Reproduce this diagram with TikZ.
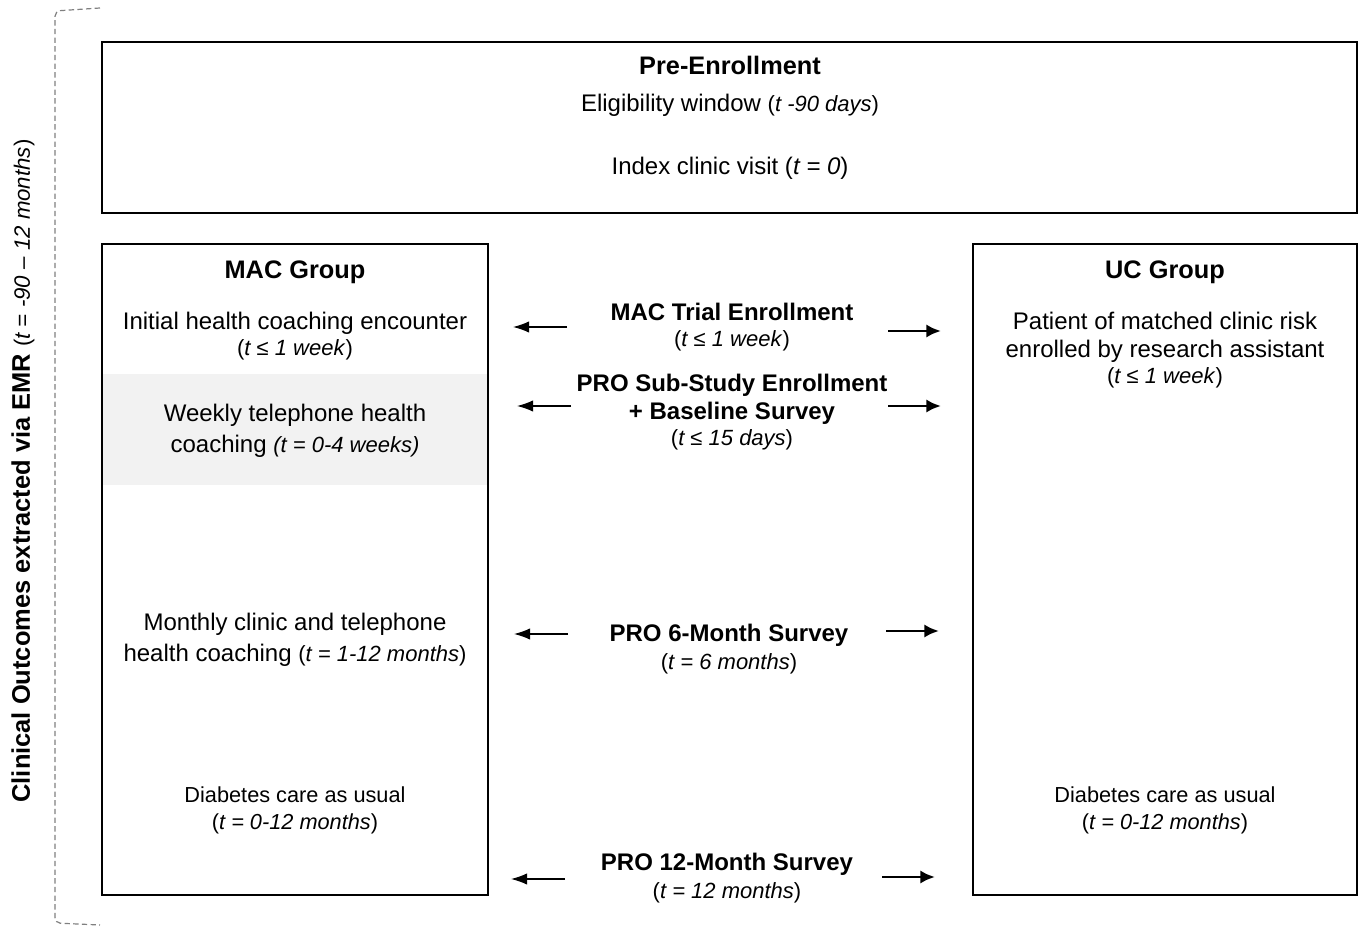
\documentclass[tikz,border=0pt]{standalone}
\usepackage{fontspec}
\setmainfont{Liberation Sans}
\usetikzlibrary{arrows.meta}
\definecolor{boxgray}{RGB}{242,242,242}
\definecolor{bracketgray}{RGB}{128,128,128}
\tikzset{
  txt/.style={inner sep=0.75pt,anchor=center,text height=0.72em,text depth=0pt,yshift=-3pt,font=\fontsize{18}{21}\selectfont},
  head/.style={txt,font=\fontsize{19}{22}\selectfont\bfseries},
  lab/.style={txt,font=\fontsize{18}{21}\selectfont\bfseries},
  small/.style={txt,font=\fontsize{16.3}{19}\selectfont},
  leftarr/.style={line width=1pt,-{Latex[length=12pt,width=8.5pt]}},
  rightarr/.style={line width=2.2pt,-{Latex[length=11pt,width=10pt]}},
  panel/.style={draw,line width=0.9pt}
}
\begin{document}
\begin{tikzpicture}[x=0.75pt,y=0.75pt,yscale=-1,xscale=1]
\useasboundingbox (0,0) rectangle (1361,927);

%Shape: Rectangle [pre-enrollment]
\draw [panel] (102,42) rectangle (1357,213) ;
%Shape: Rectangle [gray band]
\fill [boxgray] (102.7,374) rectangle (487.3,485) ;
%Shape: Rectangle [MAC group]
\draw [panel] (102,244) rectangle (488,895) ;
%Shape: Rectangle [UC group]
\draw [panel] (973,244) rectangle (1357,895) ;
%Dashed bracket
\draw [bracketgray,line width=0.9pt,dash pattern={on 4pt off 2.5pt},rounded corners=4pt] (100,8) -- (55,11) -- (55,923) -- (100,925) ;

% Text Node
\node [head] (pre) at (730,66) {Pre-Enrollment};
\node [txt] (elig) at (730,103) {Eligibility window {\fontsize{16.5}{19}\selectfont(\textit{t -90 days})}};
\node [txt] (index) at (730,166) {Index clinic visit {(\textit{t = 0})}};

% Text Node
\node [head] (macg) at (295,270) {MAC Group};
\node [txt] (init) at (295,321) {Initial health coaching encounter};
\node [txt] (initt) at (295,347) {\fontsize{16.5}{19}\selectfont(\textit{t ≤ 1 week})};
\node [txt] (week) at (295,413) {Weekly telephone health};
\node [txt] (weekt) at (295,444) {coaching \textit{\fontsize{16.5}{19}\selectfont(t = 0-4 weeks)}};
\node [txt] (month) at (295,622) {Monthly clinic and telephone};
\node [txt] (montht) at (295,653) {health coaching {\fontsize{16.5}{19}\selectfont(\textit{t = 1-12 months})}};
\node [small] (careM) at (295,794) {Diabetes care as usual};
\node [small] (careMt) at (295,821) {(\textit{t = 0-12 months})};

% Text Node
\node [head] (ucg) at (1165,270) {UC Group};
\node [txt] (pat) at (1165,321) {Patient of matched clinic risk};
\node [txt] (patb) at (1165,349) {enrolled by research assistant};
\node [txt] (patt) at (1165,375) {\fontsize{16.5}{19}\selectfont(\textit{t ≤ 1 week})};
\node [small] (careU) at (1165,794) {Diabetes care as usual};
\node [small] (careUt) at (1165,821) {(\textit{t = 0-12 months})};

% Text Node
\node [lab] (trial) at (732,312) {MAC Trial Enrollment};
\node [txt] (trialt) at (732,338) {\fontsize{16.5}{19}\selectfont(\textit{t ≤ 1 week})};
\node [lab] (sub) at (732,383) {PRO Sub-Study Enrollment};
\node [lab] (subb) at (732,411) {+ Baseline Survey};
\node [txt] (subt) at (732,437) {\fontsize{16.5}{19}\selectfont(\textit{t ≤ 15 days})};
\node [lab] (six) at (729,633) {PRO 6-Month Survey};
\node [txt] (sixt) at (729,661) {\fontsize{16.5}{19}\selectfont(\textit{t = 6 months})};
\node [lab] (twelve) at (727,862) {PRO 12-Month Survey};
\node [txt] (twelvet) at (727,890) {\fontsize{16.5}{19}\selectfont(\textit{t = 12 months})};

% Vertical label
\node [txt,rotate=90,yshift=0pt,xshift=-3pt] (emr) at (25,463) {\fontsize{19.1}{22}\selectfont\bfseries Clinical Outcomes extracted via EMR \fontsize{16.7}{20}\selectfont\mdseries(\textit{t = -90 -- 12 months})};

%Arrow ends
\coordinate (trialL) at (567,327); \coordinate (trialLe) at (513,327);
\coordinate (trialR) at (888,331); \coordinate (trialRe) at (941,331);
\coordinate (subL) at (571,406); \coordinate (subLe) at (517,406);
\coordinate (subR) at (888,406); \coordinate (subRe) at (941,406);
\coordinate (sixL) at (568,634); \coordinate (sixLe) at (514,634);
\coordinate (sixR) at (886,631); \coordinate (sixRe) at (939,631);
\coordinate (twelveL) at (565,879); \coordinate (twelveLe) at (511,879);
\coordinate (twelveR) at (882,877); \coordinate (twelveRe) at (935,877);

%Straight Lines
\draw [leftarr] (trialL) -- (trialLe) ;
\draw [rightarr] (trialR) -- (trialRe) ;
\draw [leftarr] (subL) -- (subLe) ;
\draw [rightarr] (subR) -- (subRe) ;
\draw [leftarr] (sixL) -- (sixLe) ;
\draw [rightarr] (sixR) -- (sixRe) ;
\draw [leftarr] (twelveL) -- (twelveLe) ;
\draw [rightarr] (twelveR) -- (twelveRe) ;

\end{tikzpicture}
\end{document}
